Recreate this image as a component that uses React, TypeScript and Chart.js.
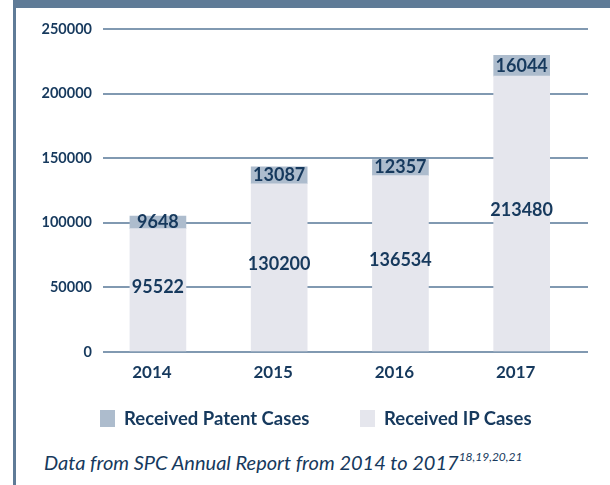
import React, { useEffect, useRef } from 'react';
import { Chart, registerables } from 'chart.js';

Chart.register(...registerables);

// ---- data ----
const categories = ['2014', '2015', '2016', '2017'];
const ipCases = [95522, 130200, 136534, 213480];
const patentCases = [9648, 13087, 12357, 16044];
const yTickValues = [0, 50000, 100000, 150000, 200000, 250000];
const seriesNames = ['Received Patent Cases', 'Received IP Cases'];
const captionText = 'Data from SPC Annual Report from 2014 to 2017';
const captionRefs = '18,19,20,21';

// ---- style ----
const NAVY = '#16395d';
const BAND = '#5f7b97';
const GRID = '#8199b1';
const PATENT_COLOR = '#adbccd';
const IP_COLOR = '#e5e6ed';
const FONT = 'Lato, "Noto Sans", sans-serif';

const legendItems = [
  { name: seriesNames[0], color: PATENT_COLOR, left: 100 },
  { name: seriesNames[1], color: IP_COLOR, left: 360 },
];

const barLabels = {
  id: 'barLabels',
  afterDatasetsDraw(chart: any) {
    const ctx = chart.ctx;
    ctx.save();
    ctx.font = `bold 18px ${FONT}`;
    ctx.fillStyle = NAVY;
    ctx.textAlign = 'center';
    ctx.textBaseline = 'middle';
    chart.data.datasets.forEach((ds: any, i: number) => {
      const meta = chart.getDatasetMeta(i);
      const shift = i === 0 ? -3 : 0;
      meta.data.forEach((bar: any, j: number) => {
        const { x, y, base } = bar.getProps(['x', 'y', 'base'], true);
        ctx.fillText(String(ds.data[j].y), x, (y + base) / 2 + shift);
      });
    });
    ctx.restore();
  },
};

export default function App() {
  const canvasRef = useRef<HTMLCanvasElement | null>(null);

  useEffect(() => {
    const canvas = canvasRef.current;
    if (!canvas) return;
    const chart = new Chart(canvas, {
      type: 'bar',
      data: {
        datasets: [
          {
            label: seriesNames[1],
            data: ipCases.map((v, i) => ({ x: i, y: v })),
            backgroundColor: IP_COLOR,
            borderWidth: 0,
            barThickness: 56,
          },
          {
            label: seriesNames[0],
            data: patentCases.map((v, i) => ({ x: i, y: v })),
            backgroundColor: PATENT_COLOR,
            borderWidth: 0,
            barThickness: 56,
          },
        ],
      },
      options: {
        responsive: false,
        animation: false,
        devicePixelRatio: 1,
        layout: { padding: { left: 20, right: 22, top: 21, bottom: 20 } },
        plugins: {
          legend: { display: false },
          tooltip: { enabled: false },
        },
        scales: {
          x: {
            type: 'linear',
            stacked: true,
            offset: false,
            min: -0.453,
            max: 3.547,
            grid: { display: false, drawTicks: false, offset: false },
            border: { display: false },
            afterBuildTicks: (s: any) => {
              s.ticks = categories.map((_, i) => ({ value: i }));
            },
            afterFit: (s: any) => {
              s.height = 36;
            },
            ticks: {
              autoSkip: false,
              maxRotation: 0,
              padding: 10,
              labelOffset: -6,
              color: NAVY,
              font: { family: FONT, size: 17, weight: 'bold' },
              callback: (v: any) => categories[v] ?? '',
            },
          },
          y: {
            stacked: true,
            min: 0,
            max: 250000,
            afterFit: (s: any) => {
              s.width = 67;
            },
            afterBuildTicks: (s: any) => {
              s.ticks = yTickValues.map((v) => ({ value: v }));
            },
            grid: { color: GRID, lineWidth: 2, drawTicks: false },
            border: { display: false },
            ticks: {
              padding: 11,
              color: NAVY,
              font: { family: FONT, size: 14.5, weight: 'bold' },
              callback: (v: any) => String(v),
            },
          },
        },
      } as any,
      plugins: [barLabels],
    });
    return () => chart.destroy();
  }, []);

  return (
    <div
      style={{
        position: 'fixed',
        left: 0,
        top: 0,
        width: 610,
        height: 485,
        background: '#fff',
        overflow: 'hidden',
      }}
    >
      <div style={{ position: 'absolute', left: 13, top: 0, width: 597, height: 8, background: BAND }} />
      <div style={{ position: 'absolute', left: 13, top: 0, width: 3, height: 485, background: BAND }} />
      <canvas
        ref={canvasRef}
        width={594}
        height={400}
        style={{ position: 'absolute', left: 16, top: 8, width: 594, height: 400 }}
      />
      {legendItems.map((item) => (
        <div key={item.name} style={{ position: 'absolute', left: item.left, top: 410, height: 17 }}>
          <div style={{ position: 'absolute', left: 0, top: 0, width: 15, height: 17, background: item.color }} />
          <span
            style={{
              position: 'absolute',
              left: 24,
              top: 0,
              fontFamily: FONT,
              fontWeight: 'bold',
              fontSize: 18.5,
              lineHeight: '17px',
              color: NAVY,
              whiteSpace: 'nowrap',
            }}
          >
            {item.name}
          </span>
        </div>
      ))}
      <div
        style={{
          position: 'absolute',
          left: 44,
          top: 452,
          fontFamily: FONT,
          fontStyle: 'italic',
          fontSize: 20,
          lineHeight: '20px',
          color: NAVY,
          whiteSpace: 'nowrap',
        }}
      >
        {captionText}
        <span style={{ fontSize: 12, position: 'relative', top: -9 }}>{captionRefs}</span>
      </div>
    </div>
  );
}
